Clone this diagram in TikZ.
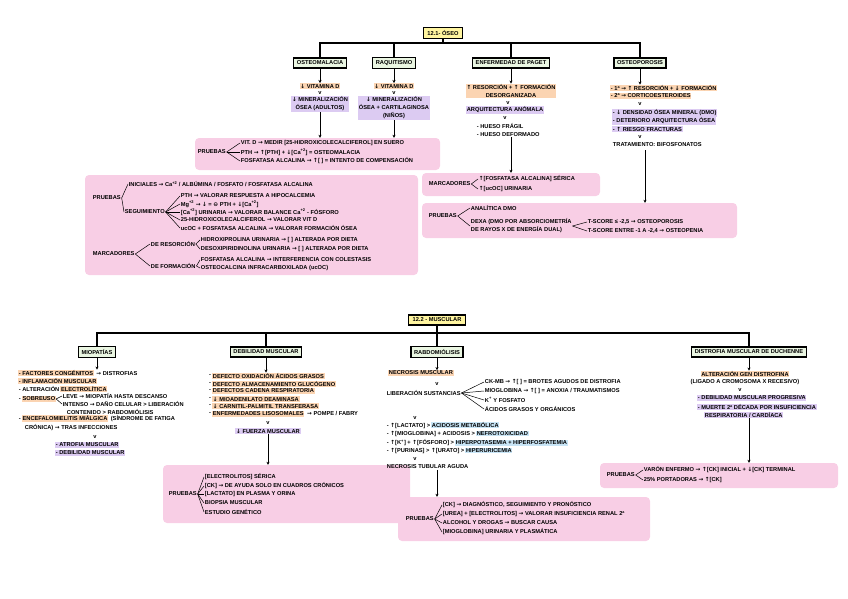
\documentclass[tikz,border=0pt]{standalone}
\usepackage{fontspec}
\setmainfont{Liberation Sans}
\newfontfamily\symf{DejaVu Sans}
\usepackage{tikz}
\usetikzlibrary{arrows.meta, positioning, calc}

\definecolor{boxpink}{RGB}{248,206,229}
\definecolor{hlorange}{RGB}{251,212,178}
\definecolor{hlpurple}{RGB}{220,203,242}
\definecolor{hlblue}{RGB}{200,229,246}
\definecolor{headgreen}{RGB}{234,246,226}
\definecolor{titleyellow}{RGB}{255,245,160}

\newcommand\fnt{\fontsize{5.7}{8}\selectfont\bfseries}
\newcommand\upa{{\symf ↑}}
\newcommand\dna{{\symf ↓}}
\newcommand\rta{{\symf →}}
\newcommand\caion{Ca\textsuperscript{+2}}

\begin{document}
\begin{tikzpicture}[x=1pt, y=-1pt,
    titlebox/.style={draw, line width=1.1pt, fill=titleyellow, inner xsep=4pt, inner ysep=3pt, font=\fnt},
    headbox/.style={draw, line width=1.1pt, fill=headgreen, inner xsep=3pt, inner ysep=3pt, font=\fnt},
    panel/.style={fill=boxpink, rounded corners=4pt, inner sep=0pt},
    txt/.style={inner sep=0.7pt, font=\fnt},
    hlo/.style={txt, fill=hlorange},
    hlp/.style={txt, fill=hlpurple},
    hlb/.style={txt, fill=hlblue},
    link/.style={line width=1.1pt},
    down/.style={line width=0.9pt, -{Stealth[length=3pt, width=3pt]}},
    fan/.style={line width=0.5pt}
  ]
\useasboundingbox (0,0) rectangle (848,599);

% ---------------- 12.1 oseo ----------------
\node[panel, minimum width=245, minimum height=32] (pr1) at (317.5,154) {};
\node[panel, minimum width=333, minimum height=100] (pr2) at (251.5,225) {};
\node[panel, minimum width=178, minimum height=23] (pr3) at (511,184.5) {};
\node[panel, minimum width=315, minimum height=35] (pr4) at (579.5,220.5) {};

\node[titlebox] (oseo) at (443,33) {12.1- ÓSEO};
\coordinate (oseoj) at (443,43);
\node[headbox] (osm) at (320,63) {OSTEOMALACIA};
\node[headbox] (raq) at (394,63) {RAQUITISMO};
\node[headbox] (pag) at (511,63) {ENFERMEDAD DE PAGET};
\node[headbox] (osp) at (640,63) {OSTEOPOROSIS};
\draw[link] (oseo) -- (oseoj);
\draw[link] (osm.north) -- (osm.north |- oseoj) -- (osp.north |- oseoj) -- (osp.north);
\draw[link] (raq.north) -- (raq.north |- oseoj);
\draw[link] (pag.north) -- (pag.north |- oseoj);

% osteomalacia
\node[hlo] (osm1) at (320,86) {\dna\ VITAMINA D};
\node[txt] (osmv) at (320,93) {v};
\node[hlp, align=center] (osm2) at (320,104) {\dna\ MINERALIZACIÓN\\ÓSEA (ADULTOS)};
\draw[down] (osm.south) -- (osm1.north);
\draw[down] (osm2.south) -- (osm2.south |- pr1.north);

% raquitismo
\node[hlo] (raq1) at (394,86) {\dna\ VITAMINA D};
\node[txt] (raqv) at (394,93) {v};
\node[hlp, align=center] (raq2) at (394,108) {\dna\ MINERALIZACIÓN\\ÓSEA + CARTILAGINOSA\\(NIÑOS)};
\draw[down] (raq.south) -- (raq1.north);
\draw[down] (raq2.south) -- (raq2.south |- pr1.north);

% pruebas osteomalacia
\node[txt, anchor=west] (pr1l) at (197,152) {PRUEBAS};
\node[txt, anchor=west] (pr1a) at (240,143) {VIT. D \rta\ MEDIR [25-HIDROXICOLECALCIFEROL] EN SUERO};
\node[txt, anchor=west] (pr1b) at (240,152) {PTH \rta\ \upa[PTH] + \dna[\caion] = OSTEOMALACIA};
\node[txt, anchor=west] (pr1c) at (240,161) {FOSFATASA ALCALINA \rta\ \upa[ ] = INTENTO DE COMPENSACIÓN};
\foreach \n in {a,b,c} \draw[fan] (pr1l.east) -- (pr1\n.west);

% big box
\node[txt, anchor=west] (pr2l) at (92,198) {PRUEBAS};
\node[txt, anchor=west] (pr2a) at (128,184) {INICIALES \rta\ \caion\ / ALBÚMINA / FOSFATO / FOSFATASA ALCALINA};
\node[txt, anchor=west] (pr2s) at (124,212) {SEGUIMIENTO};
\node[txt, anchor=west] (pr2s1) at (180,196) {PTH \rta\ VALORAR RESPUESTA A HIPOCALCEMIA};
\node[txt, anchor=west] (pr2s2) at (180,204) {Mg\textsuperscript{+2} \rta\ \dna\ = {\symf ⊖} PTH + \dna[\caion]};
\node[txt, anchor=west] (pr2s3) at (180,212) {[\caion] URINARIA \rta\ VALORAR BALANCE \caion\ - FÓSFORO};
\node[txt, anchor=west] (pr2s4) at (180,220) {25-HIDROXICOLECALCIFEROL \rta\ VALORAR VIT D};
\node[txt, anchor=west] (pr2s5) at (180,228) {ucOC + FOSFATASA ALCALINA \rta\ VALORAR FORMACIÓN ÓSEA};
\draw[fan] (pr2l.east) -- (pr2a.west);
\draw[fan] (pr2l.east) -- (pr2s.west);
\foreach \n in {1,...,5} \draw[fan] (pr2s.east) -- (pr2s\n.west);
\node[txt, anchor=west] (pr2m) at (92,254) {MARCADORES};
\node[txt, anchor=west] (pr2r) at (150,244) {DE RESORCIÓN};
\node[txt, anchor=west] (pr2r1) at (200,240) {HIDROXIPROLINA URINARIA \rta\ [ ] ALTERADA POR DIETA};
\node[txt, anchor=west] (pr2r2) at (200,249) {DESOXIPIRIDINOLINA URINARIA \rta\ [ ] ALTERADA POR DIETA};
\node[txt, anchor=west] (pr2f) at (150,266) {DE FORMACIÓN};
\node[txt, anchor=west] (pr2f1) at (200,260) {FOSFATASA ALCALINA \rta\ INTERFERENCIA CON COLESTASIS};
\node[txt, anchor=west] (pr2f2) at (200,268) {OSTEOCALCINA INFRACARBOXILADA (ucOC)};
\draw[fan] (pr2m.east) -- (pr2r.west);
\draw[fan] (pr2m.east) -- (pr2f.west);
\foreach \n in {1,2} {
  \draw[fan] (pr2r.east) -- (pr2r\n.west);
  \draw[fan] (pr2f.east) -- (pr2f\n.west);
}

% paget
\node[hlo, align=center] (pag1) at (511,91) {\upa\ RESORCIÓN + \upa\ FORMACIÓN\\DESORGANIZADA};
\node[txt] (pagv1) at (508,103) {v};
\node[hlp] (pag2) at (505,110) {ARQUITECTURA ANÓMALA};
\node[txt] (pagv2) at (505,118) {v};
\node[txt, anchor=west, align=left] (pag3) at (476,130) {- HUESO FRÁGIL\\- HUESO DEFORMADO};
\draw[down] (pag.south) -- (pag1.north);
\draw[down] (pag3.south -| pr3.north) -- (pr3.north);
\node[txt, anchor=west] (pr3l) at (428,184) {MARCADORES};
\node[txt, anchor=west] (pr3a) at (478,179) {\upa[FOSFATASA ALCALINA] SÉRICA};
\node[txt, anchor=west] (pr3b) at (478,189) {\upa[ucOC] URINARIA};
\foreach \n in {a,b} \draw[fan] (pr3l.east) -- (pr3\n.west);

% osteoporosis
\node[hlo, anchor=west] (osp1) at (610,88) {- 1ª \rta\ \upa\ RESORCIÓN + \dna\ FORMACIÓN};
\node[hlo, anchor=west] (osp2) at (610,96) {- 2ª \rta\ CORTICOESTEROIDES};
\node[txt] (ospv1) at (640,104) {v};
\node[hlp, anchor=west] (osp3) at (612,113) {- \dna\ DENSIDAD ÓSEA MINERAL (DMO)};
\node[hlp, anchor=west] (osp4) at (612,121) {- DETERIORO ARQUITECTURA ÓSEA};
\node[hlp, anchor=west] (osp5) at (612,129) {- \upa\ RIESGO FRACTURAS};
\node[txt] (ospv2) at (640,137) {v};
\node[txt, anchor=west] (osp6) at (612,145) {TRATAMIENTO: BIFOSFONATOS};
\coordinate (ospj) at (645,150);
\draw[down] (osp.south) -- (osp.south |- osp1.north);
\draw[down] (ospj) -- (ospj |- pr4.north);
\node[txt, anchor=west] (pr4l) at (428,216) {PRUEBAS};
\node[txt, anchor=west] (pr4a) at (470,208) {ANALÍTICA DMO};
\node[txt, anchor=west, align=left] (pr4b) at (470,226) {DEXA (DMO POR ABSORCIOMETRÍA\\DE RAYOS X DE ENERGÍA DUAL)};
\node[txt, anchor=west] (pr4b1) at (587,222) {T-SCORE ≤ -2,5 \rta\ OSTEOPOROSIS};
\node[txt, anchor=west] (pr4b2) at (587,231) {T-SCORE ENTRE -1 A -2,4 \rta\ OSTEOPENIA};
\foreach \n in {a,b} \draw[fan] (pr4l.east) -- (pr4\n.west);
\foreach \n in {1,2} \draw[fan] (pr4b.east) -- (pr4b\n.west);

% ---------------- 12.2 muscular ----------------
\node[panel, minimum width=247, minimum height=58] (pr5) at (286.5,494) {};
\node[panel, minimum width=252, minimum height=44] (pr6) at (524,519) {};
\node[panel, minimum width=238, minimum height=25] (pr7) at (719,475.5) {};

\node[titlebox] (musc) at (437,320) {12.2 - MUSCULAR};
\coordinate (muscj) at (437,333);
\node[headbox] (mio) at (97,352) {MIOPATÍAS};
\node[headbox] (deb) at (266,352) {DEBILIDAD MUSCULAR};
\node[headbox] (rab) at (437,352) {RABDOMIÓLISIS};
\node[headbox] (duc) at (749,352) {DISTROFIA MUSCULAR DE DUCHENNE};
\draw[link] (musc) -- (muscj);
\draw[link] (mio.north) -- (mio.north |- muscj) -- (duc.north |- muscj) -- (duc.north);
\draw[link] (deb.north) -- (deb.north |- muscj);
\draw[link] (rab.north) -- (rab.north |- muscj);

% miopatias
\node[hlo, anchor=west] (mi1) at (18,373) {- FACTORES CONGÉNITOS};
\node[txt, anchor=base west] (mi1b) at (mi1.base east) {\ \rta\ DISTROFIAS};
\node[hlo, anchor=west] (mi2) at (18,381) {- INFLAMACIÓN MUSCULAR};
\node[txt, anchor=west] (mi3) at (18,389) {- ALTERACIÓN};
\node[hlo, anchor=base west] (mi3b) at (mi3.base east) {ELECTROLÍTICA};
\node[txt, anchor=west] (mi4) at (18,400) {-};
\node[hlo, anchor=base west] (mi4b) at (mi4.base east) {SOBREUSO};
\node[txt, anchor=west] (mi4c) at (62,396) {LEVE \rta\ MIOPATÍA HASTA DESCANSO};
\node[txt, anchor=west] (mi4d) at (62,404) {INTENSO \rta\ DAÑO CELULAR > LIBERACIÓN};
\node[txt, anchor=west] (mi4e) at (66,412) {CONTENIDO > RABDOMIÓLISIS};
\foreach \n in {c,d} \draw[fan] (mi4b.east) -- (mi4\n.west);
\node[txt, anchor=west] (mi5) at (18,420) {-};
\node[hlo, anchor=base west] (mi5b) at (mi5.base east) {ENCEFALOMIELITIS MIÁLGICA};
\node[txt, anchor=base west] (mi5c) at (mi5b.base east) {\ (SÍNDROME DE FATIGA};
\node[txt, anchor=west] (mi5d) at (24,428) {CRÓNICA) \rta\ TRAS INFECCIONES};
\node[txt] (miov) at (95,437) {v};
\node[hlp, anchor=west] (mi6) at (55,445) {- ATROFIA MUSCULAR};
\node[hlp, anchor=west] (mi7) at (55,453) {- DEBILIDAD MUSCULAR};
\draw[down] (mio.south) -- (mio.south |- mi1.north);

% debilidad muscular
\foreach \y/\t [count=\i] in {376/DEFECTO OXIDACIÓN ÁCIDOS GRASOS, 384/DEFECTO ALMACENAMIENTO GLUCÓGENO,
    391/DEFECTOS CADENA RESPIRATORIA, 399/{\dna\ MIOADENILATO DEAMINASA},
    406/{\dna\ CARNITIL-PALMITIL TRANSFERASA}, 414/ENFERMEDADES LISOSOMALES} {
  \node[hlo, anchor=west] (db\i) at (212,\y) {\t};
  \node[txt, anchor=east] (dd\i) at (db\i.west) {-};
}
\node[txt, anchor=base west] (db6b) at (db6.base east) {\ \rta\ POMPE / FABRY};
\node[txt] (debv) at (268,423) {v};
\node[hlp] (db7) at (268,431) {\dna\ FUERZA MUSCULAR};
\draw[down] (deb.south) -- (deb.south |- db1.north);
\draw[down] (db7.south) -- (db7.south |- pr5.north);
\node[txt, anchor=west] (pr5l) at (168,494) {PRUEBAS};
\node[txt, anchor=west] (pr5a) at (204,477) {[ELECTROLITOS] SÉRICA};
\node[txt, anchor=west] (pr5b) at (204,486) {[CK] \rta\ DE AYUDA SOLO EN CUADROS CRÓNICOS};
\node[txt, anchor=west] (pr5c) at (204,494) {[LACTATO] EN PLASMA Y ORINA};
\node[txt, anchor=west] (pr5d) at (204,503) {BIOPSIA MUSCULAR};
\node[txt, anchor=west] (pr5e) at (204,512) {ESTUDIO GENÉTICO};
\foreach \n in {a,...,e} \draw[fan] (pr5l.east) -- (pr5\n.west);

% rabdomiolisis
\node[hlo, anchor=west] (rb1) at (388,373) {NECROSIS MUSCULAR};
\node[txt] (rbv1) at (437,384) {v};
\node[txt, anchor=west] (rb2) at (386,393) {LIBERACIÓN SUSTANCIAS};
\node[txt, anchor=west] (rb2a) at (484,382) {CK-MB \rta\ \upa[ ] = BROTES AGUDOS DE DISTROFIA};
\node[txt, anchor=west] (rb2b) at (484,391) {MIOGLOBINA \rta\ \upa[ ] = ANOXIA / TRAUMATISMOS};
\node[txt, anchor=west] (rb2c) at (484,400) {K\textsuperscript{+} Y FOSFATO};
\node[txt, anchor=west] (rb2d) at (484,409) {ÁCIDOS GRASOS Y ORGÁNICOS};
\foreach \n in {a,...,d} \draw[fan] (rb2.east) -- (rb2\n.west);
\draw[down] (rab.south) -- (rab.south |- rb1.north);
\node[txt] (rbv2) at (415,418) {v};
\node[txt, anchor=west] (rb3) at (386,426) {- \upa[LACTATO] >};
\node[hlb, anchor=base west] (rb3b) at (rb3.base east) {ACIDOSIS METABÓLICA};
\node[txt, anchor=west] (rb4) at (386,434) {- \upa[MIOGLOBINA] + ACIDOSIS >};
\node[hlb, anchor=base west] (rb4b) at (rb4.base east) {NEFROTOXICIDAD};
\node[txt, anchor=west] (rb5) at (386,443) {- \upa[K\textsuperscript{+}] + \upa[FÓSFORO] >};
\node[hlb, anchor=base west] (rb5b) at (rb5.base east) {HIPERPOTASEMIA + HIPERFOSFATEMIA};
\node[txt, anchor=west] (rb6) at (386,451) {- \upa[PURINAS] > \upa[URATO] >};
\node[hlb, anchor=base west] (rb6b) at (rb6.base east) {HIPERURICEMIA};
\node[txt] (rbv3) at (415,459) {v};
\node[txt, anchor=west] (rb7) at (386,467) {NECROSIS TUBULAR AGUDA};
\draw[down] (rb7.south -| rab.south) -- (rab.south |- pr6.north);
\node[txt, anchor=west] (pr6l) at (405,519) {PRUEBAS};
\node[txt, anchor=west] (pr6a) at (442,505) {[CK] \rta\ DIAGNÓSTICO, SEGUIMIENTO Y PRONÓSTICO};
\node[txt, anchor=west] (pr6b) at (442,514) {[UREA] + [ELECTROLITOS] \rta\ VALORAR INSUFICIENCIA RENAL 2ª};
\node[txt, anchor=west] (pr6c) at (442,523) {ALCOHOL Y DROGAS \rta\ BUSCAR CAUSA};
\node[txt, anchor=west] (pr6d) at (442,532) {[MIOGLOBINA] URINARIA Y PLASMÁTICA};
\foreach \n in {a,...,d} \draw[fan] (pr6l.east) -- (pr6\n.west);

% duchenne
\node[hlo] (du1) at (745,374) {ALTERACIÓN GEN DISTROFINA};
\node[txt] (du2) at (745,382) {(LIGADO A CROMOSOMA X RECESIVO)};
\node[txt] (duv) at (740,390) {v};
\node[hlp, anchor=west] (du3) at (697,398) {- DEBILIDAD MUSCULAR PROGRESIVA};
\node[hlp, anchor=west] (du4) at (697,407) {- MUERTE 2ª DÉCADA POR INSUFICIENCIA};
\node[hlp, anchor=west] (du5) at (704,415) {RESPIRATORIA / CARDÍACA};
\draw[down] (duc.south) -- (duc.south |- du1.north);
\draw[down] (du5.south -| duc.south) -- (duc.south |- pr7.north);
\node[txt, anchor=west] (pr7l) at (606,475) {PRUEBAS};
\node[txt, anchor=west] (pr7a) at (643,470) {VARÓN ENFERMO \rta\ \upa[CK] INICIAL + \dna[CK] TERMINAL};
\node[txt, anchor=west] (pr7b) at (643,480) {25\% PORTADORAS \rta\ \upa[CK]};
\foreach \n in {a,b} \draw[fan] (pr7l.east) -- (pr7\n.west);
\end{tikzpicture}
\end{document}
